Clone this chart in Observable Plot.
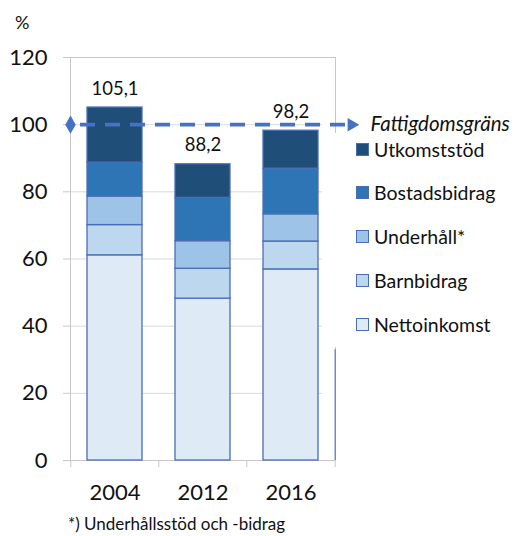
<!DOCTYPE html>
<html><head><meta charset="utf-8">
<script src="https://cdn.jsdelivr.net/npm/d3@7"></script>
<script src="https://cdn.jsdelivr.net/npm/@observablehq/plot@0.6"></script>
<style>
body{margin:0;background:#fff;font-family:Lato,"Open Sans",sans-serif;}
#wrap{position:relative;width:517px;height:536px;}
#pct{position:absolute;left:15px;top:11px;font-size:18px;color:#111;}
#legend{position:absolute;left:356px;top:136px;}
.li{display:flex;align-items:center;height:26px;margin-bottom:17.8px;font-size:19.5px;color:#111;}
.sw{width:11px;height:11px;border:1px solid #4a6eb5;margin-right:5px;}
#mask{position:absolute;left:332px;top:133px;width:6px;height:214px;background:#fff;}
#foot{position:absolute;left:68px;top:514px;font-size:17px;line-height:20px;color:#111;}
</style></head>
<body><div id="wrap"><div id="chart"></div><div id="mask"></div><div id="pct">%</div><div id="legend"></div><div id="foot">*) Underhållsstöd och -bidrag</div></div>
<script>
const years = ["2004", "2012", "2016"];
const series = ["Nettoinkomst", "Barnbidrag", "Underhåll*", "Bostadsbidrag", "Utkomststöd"];
const nettoinkomst = [61.1, 48.2, 56.9];
const barnbidrag = [9.0, 8.9, 8.3];
const underhall = [8.5, 8.2, 8.1];
const bostadsbidrag = [10.1, 12.9, 13.6];
const utkomststod = [16.4, 10.0, 11.3];
const totalLabels = ["105,1", "88,2", "98,2"];
const colors = ["#deebf7", "#bdd7ee", "#9dc3e6", "#2e75b6", "#1f4e79"];
const povertyLine = 100;
const povertyLabel = "Fattigdomsgräns";
const yTicks = [0, 20, 40, 60, 80, 100, 120];

const values = [nettoinkomst, barnbidrag, underhall, bostadsbidrag, utkomststod];
const rows = series.flatMap((s, i) => years.map((y, j) => ({year: y, series: s, value: values[i][j]})));
const totals = years.map((y, j) => ({year: y, total: d3.sum(values, v => v[j]), label: totalLabels[j]}));

const gray = "#c8c8c8";
const blue = "#4472c4";
const chart = Plot.plot({
  width: 517, height: 505,
  marginLeft: 70, marginRight: 182, marginTop: 57, marginBottom: 45,
  style: {fontFamily: "Lato, 'Open Sans', sans-serif", background: "transparent", color: "#111"},
  x: {domain: years, paddingInner: 0.38, paddingOuter: 0.19, label: null},
  y: {domain: [0, 120], label: null},
  color: {domain: series, range: colors},
  marks: [
    Plot.gridY(yTicks.slice(1, -1), {stroke: "#d9d9d9", strokeOpacity: 1, insetRight: 13}),
    Plot.frame({anchor: "top", stroke: gray}),
    Plot.frame({anchor: "left", stroke: gray}),
    Plot.frame({anchor: "right", stroke: gray}),
    Plot.ruleX([{y1: 0, y2: 33}], {x: () => years[years.length - 1], y1: "y1", y2: "y2", dx: 44.2, stroke: "#5b7fc4", strokeWidth: 1.3}),
    Plot.ruleY([0], {stroke: gray}),
    Plot.axisY({ticks: yTicks, tickSize: 7, tickPadding: 16, fontSize: 22, stroke: gray, label: null}),
    Plot.axisX({tickSize: 0, tickPadding: 24, fontSize: 22, label: null}),
    Plot.axisX({ticks: years, text: null, tickSize: 7, dx: -44.2, stroke: gray, label: null}),
    Plot.axisX({ticks: years.slice(-1), text: null, tickSize: 7, dx: 44.2, stroke: gray, label: null}),
    Plot.barY(rows, {x: "year", y: "value", fill: "series", stroke: "#4a6eb5", strokeWidth: 1.3}),
    Plot.text(totals, {x: "year", y: "total", text: "label", lineAnchor: "bottom", dy: -13, fontSize: 18.5, fill: "#111"}),
    Plot.ruleY([povertyLine], {stroke: blue, strokeWidth: 3.8, strokeDasharray: "15,10", strokeDashoffset: -10, insetRight: -10}),
    Plot.dot([povertyLine], {y: d => d, frameAnchor: "left", symbol: "diamond", r: 5.5, fill: blue, stroke: "none"}),
    Plot.dot([povertyLine], {y: d => d, frameAnchor: "right", dx: 16, symbol: "triangle", rotate: 90, r: 5, fill: blue, stroke: "none"}),
    Plot.text([povertyLine], {y: d => d, text: () => povertyLabel, frameAnchor: "right", dx: 35, textAnchor: "start", fontStyle: "italic", fontSize: 20.5, fill: "#111"})
  ]
});
document.getElementById("chart").appendChild(chart);

const legend = document.getElementById("legend");
[...series].reverse().forEach((s) => {
  const i = series.indexOf(s);
  const row = document.createElement("div");
  row.className = "li";
  row.innerHTML = `<div class="sw" style="background:${colors[i]}"></div><span>${s}</span>`;
  legend.appendChild(row);
});
</script></body></html>
